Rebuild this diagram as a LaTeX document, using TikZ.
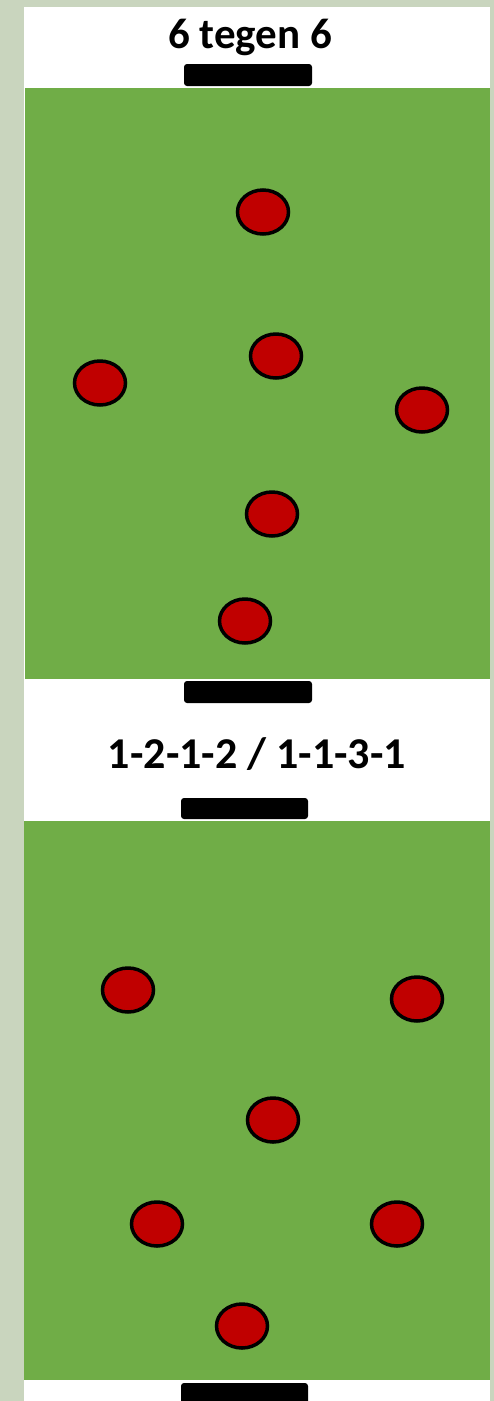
\documentclass[tikz,border=0pt]{standalone}
\usepackage{fontspec}
\setmainfont{Carlito}
\usetikzlibrary{shapes.geometric}
\definecolor{paper}{RGB}{201,213,190}
\definecolor{pitch}{RGB}{112,173,71}
\definecolor{shirt}{RGB}{192,0,0}
\begin{document}
\begin{tikzpicture}[x=1pt,y=-1pt,
  player/.style={ellipse,draw=black,fill=shirt,line width=3.5pt,minimum width=51pt,minimum height=44pt,inner sep=0pt},
  goalbar/.style={fill=black,rounded corners=3pt},
  field/.style={fill=pitch},
  heading/.style={font=\bfseries,text=black,inner sep=0pt,anchor=base}]
\useasboundingbox (0,0) rectangle (494,1401);
\fill[paper] (0,0) rectangle (494,1401);
\fill[white] (24,7) rectangle (490,1401);
% fields
\fill[field] (25,88) rectangle (490,679);
\fill[field] (24,821) rectangle (490,1380);
% goals
\fill[goalbar] (184,64) rectangle (312,86);
\fill[goalbar] (184,681) rectangle (312,703);
\fill[goalbar] (181,798) rectangle (308,819);
\fill[goalbar] (181,1383) rectangle (308,1406);
% titles
\node[heading,font=\bfseries\fontsize{43}{43}\selectfont] (t1) at (250,48) {6 tegen 6};
\node[heading,font=\bfseries\fontsize{44}{44}\selectfont] (t2) at (257,768) {1-2-1-2 / 1-1-3-1};
% field 1 players
\node[player] (a1) at (263,212) {};
\node[player] (a2) at (276,356) {};
\node[player] (a3) at (100,383) {};
\node[player] (a4) at (422,410) {};
\node[player] (a5) at (272,514) {};
\node[player] (a6) at (245,621) {};
% field 2 players
\node[player] (b1) at (128,990) {};
\node[player] (b2) at (417,999) {};
\node[player] (b3) at (273,1120) {};
\node[player] (b4) at (157,1224) {};
\node[player] (b5) at (397,1224) {};
\node[player] (b6) at (242,1326) {};
\end{tikzpicture}
\end{document}
